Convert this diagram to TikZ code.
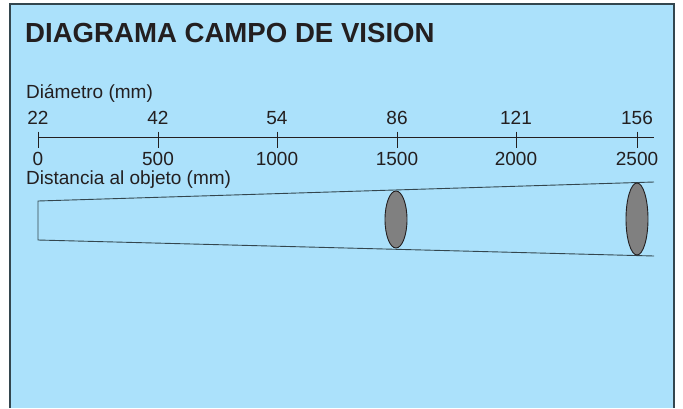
\documentclass[tikz,border=0pt]{standalone}
\usepackage{fontspec}
\setmainfont{Liberation Sans}
\usetikzlibrary{shapes.geometric}

\definecolor{panelblue}{HTML}{ABE1FB}
\definecolor{inkgray}{HTML}{231F20}
\definecolor{edgegray}{HTML}{33464E}

\tikzset{
  axislabel/.style={inner sep=0pt, text=inkgray, font=\fontsize{19}{21}\selectfont},
  lens/.style={ellipse, draw=inkgray, fill=gray, line width=0.9pt, inner sep=0pt, minimum width=22pt}
}

\begin{document}
\begin{tikzpicture}[x=1pt,y=-1pt]
\useasboundingbox (0,0) rectangle (683,408);

% panel
\fill[panelblue] (10,4) rectangle (674,408);
\draw[edgegray, line width=1.4pt] (10,408) -- (10,4) -- (674,4) -- (674,408);

% title
\node[anchor=base west, inner sep=0pt, text=inkgray, font=\fontsize{27.6}{30}\bfseries] (title) at (25,42.5) {DIAGRAMA CAMPO DE VISION};

% axis
\coordinate (axstart) at (38,137);
\coordinate (axend) at (654,137);
\draw[inkgray, line width=0.9pt] (axstart) -- (axend);

\node[axislabel, anchor=base west] (diam) at (26,98.5) {Diámetro (mm)};
\node[axislabel, anchor=base west, text height=13pt] (dist) at (26,184) {Distancia al objeto (mm)};

% ticks with diameter above and distance below
\foreach \x/\d/\m [count=\i] in {38/22/0,158/42/500,277/54/1000,397/86/1500,516/121/2000,637/156/2500}{
  \draw[inkgray, line width=0.9pt] (\x,131.5) -- (\x,148);
  \node[axislabel, anchor=base, text depth=0pt] (d\i) at (\x,124) {\d};
  \node[axislabel, anchor=base, text depth=0pt] (m\i) at (\x,165.5) {\m};
}

% field of view cone
\coordinate (conetl) at (38,201);
\coordinate (conebl) at (38,240);
\coordinate (conetr) at (654,182);
\coordinate (conebr) at (654,256);
\draw[edgegray, line width=0.9pt] (conetr) -- (conetl) -- (conebl) -- (conebr);

\node[lens, minimum height=57pt] (lens1) at (396,219.5) {};
\node[lens, minimum height=72pt] (lens2) at (637,219) {};

\end{tikzpicture}
\end{document}
